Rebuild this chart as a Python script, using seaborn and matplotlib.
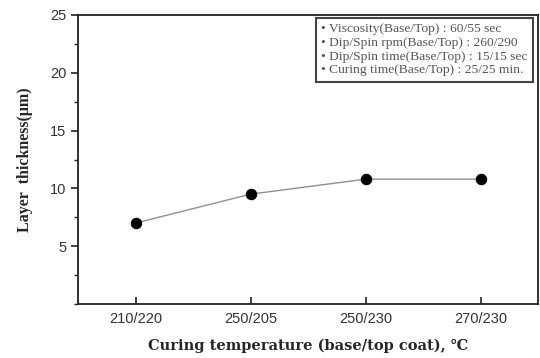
import matplotlib
matplotlib.use("Agg")
import matplotlib.pyplot as plt
import seaborn as sns
import pandas as pd
from matplotlib.ticker import MultipleLocator

categories = ["210/220", "250/205", "250/230", "270/230"]
thickness = [7.0, 9.5, 10.8, 10.8]
info_lines = [
    "• Viscosity(Base/Top) : 60/55 sec",
    "• Dip/Spin rpm(Base/Top) : 260/290",
    "• Dip/Spin time(Base/Top) : 15/15 sec",
    "• Curing time(Base/Top) : 25/25 min.",
]

sns.set_theme(style="white")
plt.rcParams['font.family'] = ['Liberation Sans', 'DejaVu Sans']

df = pd.DataFrame({"pos": range(len(categories)), "thickness": thickness})

fig = plt.figure(figsize=(5.4, 3.58), dpi=100)
ax = fig.add_axes([78/540, 1 - 304/358, 460/540, 289/358])

sns.lineplot(data=df, x="pos", y="thickness", ax=ax, color="#8f8f8f", lw=1.0,
             marker="o", markersize=7.5, markerfacecolor="black",
             markeredgecolor="black", zorder=3)

ax.set_xlim(-0.5, 3.5)
ax.set_ylim(0, 25)
ax.set_xticks(range(len(categories)))
ax.set_xticklabels(categories)
ax.yaxis.set_major_locator(MultipleLocator(5))
ax.yaxis.set_minor_locator(MultipleLocator(2.5))
ax.set_yticks([5, 10, 15, 20, 25])

for s in ax.spines.values():
    s.set_color("#222222")
    s.set_linewidth(1.3)

ax.tick_params(axis="y", which="major", direction="out", length=5, width=1.2,
               color="#222222", labelsize=10.5, labelcolor="#333333", left=True)
ax.tick_params(axis="y", which="minor", direction="out", length=3, width=1.0,
               color="#222222", left=True)
ax.tick_params(axis="x", which="major", direction="in", length=5, width=1.2,
               color="#222222", labelsize=10.5, labelcolor="#333333", bottom=True, pad=6)

ax.set_xlabel("Curing temperature (base/top coat), ℃", family=["DejaVu Serif"],
              fontweight="bold", fontsize=10.5, labelpad=9)
ax.set_ylabel("Layer  thickness(μm)", family=["Liberation Serif", "DejaVu Serif"],
              fontweight="bold", fontsize=11.5, labelpad=12)

ax.text((321 - 78) / 460, (304 - 23) / 289, "\n".join(info_lines), transform=ax.transAxes,
        family=["Liberation Serif", "DejaVu Serif"], fontsize=9.7, color="#555555",
        va="top", ha="left", linespacing=1.2,
        bbox=dict(boxstyle="square,pad=0.4", facecolor="white",
                  edgecolor="#444444", linewidth=1.5))

fig.savefig("out.png", dpi=100)
